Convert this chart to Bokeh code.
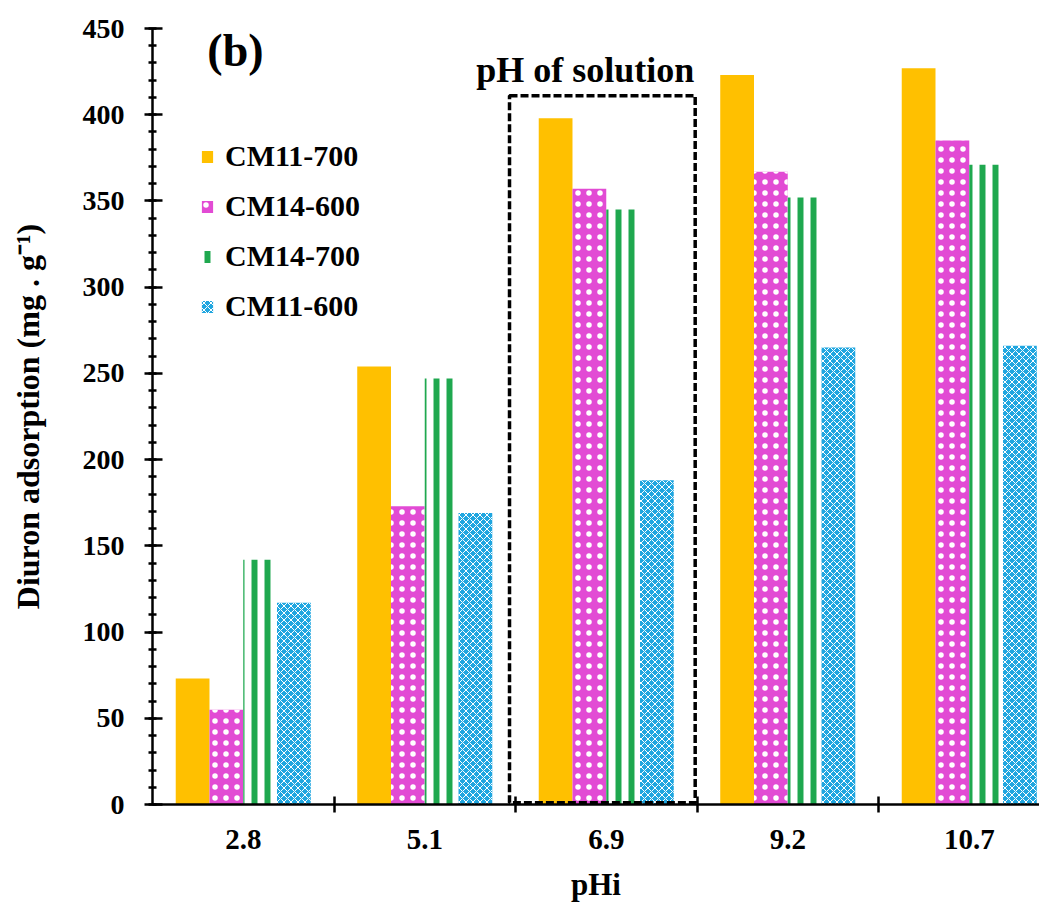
from bokeh.plotting import figure
from bokeh.models import Range1d, FixedTicker, SingleIntervalTicker, Legend, LegendItem, Label, BoxAnnotation, ColumnDataSource
from bokeh.transform import dodge
from bokeh.embed import file_html
from bokeh.resources import INLINE

# ---- data ----
categories = ["2.8", "5.1", "6.9", "9.2", "10.7"]
series_names = ["CM11-700", "CM14-600", "CM14-700", "CM11-600"]
cm11_700 = [73, 254, 398, 423, 427]
cm14_600 = [55, 173, 357, 367, 385]
cm14_700 = [142, 247, 345, 352, 371]
cm11_600 = [117, 169, 188, 265, 266]
highlight_category = "6.9"
highlight_top = 411
y_ticks_major = 50
y_title = "Diuron adsorption (mg . g\u207b\u00b9)"
x_title = "pHi"

FONT = "Liberation Serif"

xs = [i + 0.5 for i in range(len(categories))]
src = ColumnDataSource(dict(x=xs, a=cm11_700, b=cm14_600, c=cm14_700, d=cm11_600))

p = figure(width=1039, height=904, output_backend="svg", toolbar_location=None,
           x_range=Range1d(0, 4.887), y_range=Range1d(0, 450),
           min_border_left=152, min_border_top=28, min_border_bottom=97, min_border_right=0)
p.outline_line_color = None
p.xgrid.visible = False
p.ygrid.visible = False
p.background_fill_color = "white"

bw = 0.186
offs = [-1.5 * bw, -0.5 * bw, 0.5 * bw, 1.5 * bw]

r1 = p.vbar(x=dodge("x", offs[0], range=p.x_range), top="a", width=bw, source=src,
            fill_color="#FFC000", line_color=None)
r2 = p.vbar(x=dodge("x", offs[1], range=p.x_range), top="b", width=bw, source=src,
            fill_color="#E24BD4", line_color=None,
            hatch_pattern="dot", hatch_color="white", hatch_scale=11, hatch_weight=4)
r3 = p.vbar(x=dodge("x", offs[2], range=p.x_range), top="c", width=bw, source=src,
            fill_color="white", line_color=None,
            hatch_pattern="vertical_line", hatch_color="#1FA84F", hatch_scale=13, hatch_weight=6)
r4 = p.vbar(x=dodge("x", offs[3], range=p.x_range), top="d", width=bw, source=src,
            fill_color="#1FA6E0", line_color=None,
            hatch_pattern="diagonal_cross", hatch_color="white", hatch_scale=7, hatch_weight=1)

# dashed highlight box around the pH-of-solution group
hi = categories.index(highlight_category)
box = BoxAnnotation(left=hi - 0.033, right=hi + 0.99, bottom=1, top=highlight_top,
                    fill_alpha=0, line_color="black", line_alpha=1.0, line_dash="8 3", line_width=3.5)
p.add_layout(box)
p.add_layout(Label(x=hi + 0.985, y=highlight_top, y_offset=6, text="pH of solution",
                   text_align="right", text_baseline="bottom",
                   text_font=FONT, text_font_style="bold", text_font_size="36px", text_color="black"))
p.add_layout(Label(x=0.457, y=437, text="(b)", text_align="center", text_baseline="middle",
                   text_font=FONT, text_font_style="bold", text_font_size="46px", text_color="black"))

# axes
xa = p.xaxis[0]
xa.ticker = FixedTicker(ticks=xs, minor_ticks=[1, 2, 3, 4])
xa.major_label_overrides = {x: c for x, c in zip(xs, categories)}
xa.major_tick_in = 0
xa.major_tick_out = 0
xa.minor_tick_in = 8
xa.minor_tick_out = 8
xa.minor_tick_line_width = 2.5
xa.axis_line_width = 2.5
xa.major_label_text_font = FONT
xa.major_label_text_font_style = "bold"
xa.major_label_text_font_size = "29px"
xa.major_label_text_color = "black"
xa.major_label_standoff = 17
xa.axis_label = x_title
xa.axis_label_text_font = FONT
xa.axis_label_text_font_style = "bold"
xa.axis_label_text_font_size = "31px"
xa.axis_label_text_color = "black"
xa.axis_label_standoff = 15

ya = p.yaxis[0]
ya.ticker = SingleIntervalTicker(interval=y_ticks_major, num_minor_ticks=5)
ya.major_tick_in = 10
ya.major_tick_out = 8
ya.minor_tick_in = 4
ya.minor_tick_out = 4
ya.major_tick_line_width = 2.5
ya.minor_tick_line_width = 2.5
ya.axis_line_width = 2.5
ya.major_label_text_font = FONT
ya.major_label_text_font_style = "bold"
ya.major_label_text_font_size = "28px"
ya.major_label_text_color = "black"
ya.major_label_standoff = 20
ya.axis_label = y_title
ya.axis_label_text_font = FONT
ya.axis_label_text_font_style = "bold"
ya.axis_label_text_font_size = "32px"
ya.axis_label_text_color = "black"
ya.axis_label_standoff = 34

legend = Legend(items=[LegendItem(label=n, renderers=[r]) for n, r in zip(series_names, [r1, r2, r3, r4])],
                location=(48, 480), padding=0, margin=0, spacing=14,
                glyph_width=14, glyph_height=15, label_height=36, label_standoff=11,
                label_text_font=FONT, label_text_font_style="bold", label_text_font_size="30px",
                label_text_color="black", border_line_alpha=0, background_fill_alpha=0)
p.add_layout(legend)

open("out.html", "w").write(file_html(p, INLINE))
